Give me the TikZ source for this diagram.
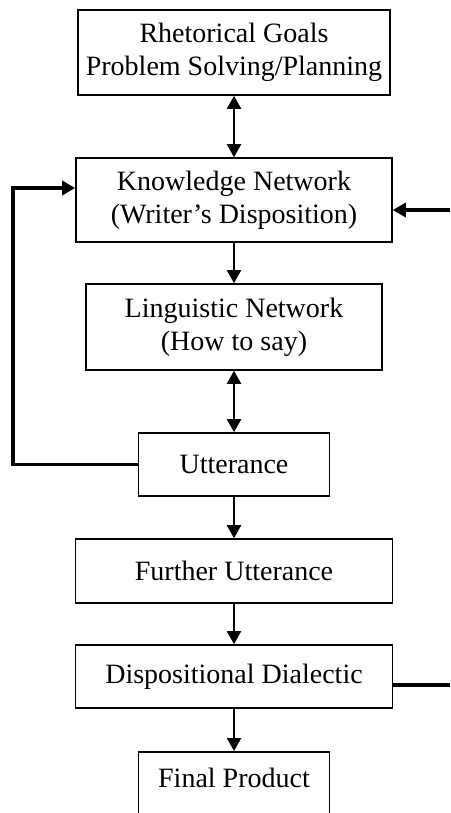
\documentclass[tikz,border=0pt]{standalone}
\usepackage{fontspec}
\setmainfont{Liberation Serif}
\usetikzlibrary{arrows.meta}
\tikzset{
  stage/.style={draw, line width=1.6pt, inner sep=0pt, align=center,
    font=\fontsize{28}{33}\selectfont},
  flow/.style={line width=2pt, -{Triangle[length=13pt,width=14pt]}},
  twoway/.style={line width=2pt, {Triangle[length=13pt,width=14pt]}-{Triangle[length=13pt,width=14pt]}},
  loop/.style={line width=3.8pt, -{Triangle[length=13pt,width=14pt]}},
  heavy/.style={line width=3.8pt}
}
\begin{document}
\begin{tikzpicture}[x=1pt,y=-1pt]
  \clip (0,0) rectangle (450,813);
  \fill[white] (0,0) rectangle (450,813);

  % stages of the writing process
  \node[stage, minimum width=312pt, minimum height=85pt] (goals) at (234,52.5)
    {Rhetorical Goals\\Problem Solving/Planning};
  \node[stage, minimum width=316pt, minimum height=84pt] (know) at (234,200)
    {Knowledge Network\\(Writer’s Disposition)};
  \node[stage, minimum width=296pt, minimum height=86pt] (ling) at (234,327)
    {Linguistic Network\\(How to say)};
  \node[stage, minimum width=191pt, minimum height=63pt] (utter) at (234,464.5)
    {Utterance};
  \node[stage, minimum width=317pt, minimum height=64pt] (further) at (234,571)
    {Further Utterance};
  \node[stage, minimum width=317pt, minimum height=63pt] (disp) at (234,676.5)
    {Dispositional Dialectic};
  % last box runs past the lower edge
  \node[stage, minimum width=191pt, inner ysep=16pt, text height=20pt, text depth=40pt,
        anchor=north] (final) at (234,751) {Final Product};

  % outside connections on the right
  \coordinate (inR) at (450,210);
  \coordinate (outR) at (450,685);

  % main flow
  \draw[twoway] (goals) -- (know);
  \draw[flow] (know) -- (ling);
  \draw[twoway] (ling) -- (utter);
  \draw[flow] (utter) -- (further);
  \draw[flow] (further) -- (disp);
  \draw[flow] (disp.south) -- (final.north);

  % feedback from the utterance to the knowledge network
  \draw[loop] (utter.west) -- ++(-125,0) |- ([yshift=12pt]know.west);

  % links from outside
  \draw[loop] (inR) -- (know.east |- inR);
  \draw[heavy] (disp.east |- outR) -- (outR);
\end{tikzpicture}
\end{document}
